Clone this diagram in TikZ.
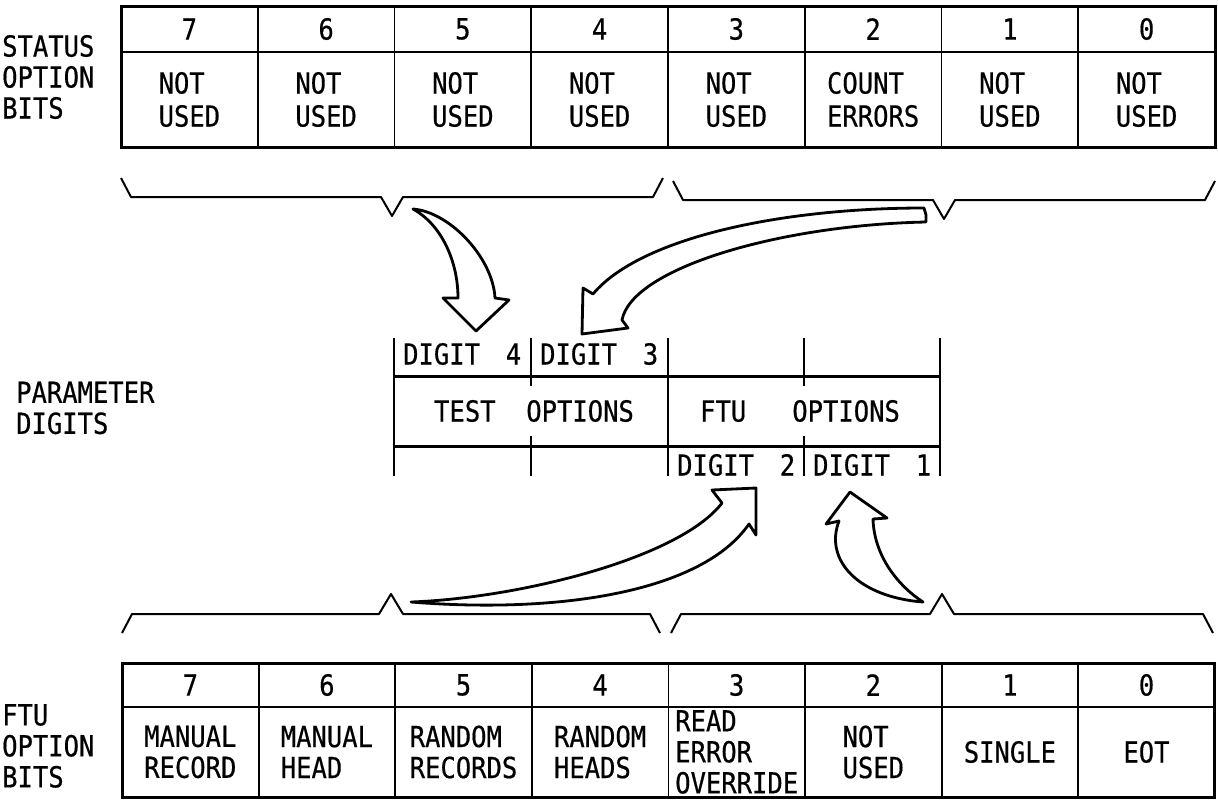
\documentclass[tikz,border=0pt]{standalone}
\usepackage{fontspec}
\newfontfamily\lettering[FakeStretch=0.88, FakeBold=0.5]{DejaVu Sans Mono}
\usetikzlibrary{positioning}

\begin{document}
\begin{tikzpicture}[
  x=1pt, y=-1pt,
  font={\lettering\fontsize{29}{33}\selectfont},
  bithead/.style={draw, line width=1.8pt, anchor=north west, inner sep=0pt, outer sep=0pt,
                  minimum width=136.75pt, minimum height=46pt},
  bitcell/.style={draw, line width=1.8pt, align=left, inner sep=0pt, outer sep=0pt,
                  minimum width=136.75pt, minimum height=95pt},
  frame/.style={line width=3pt},
  rule/.style={line width=2pt},
  brace/.style={line width=2pt, line join=round},
  fatarr/.style={draw, fill=white, line width=2.8pt, line join=round},
  digit/.style={anchor=west, inner xsep=9pt, inner ysep=0pt, text width=118pt},
  lbl/.style={anchor=west, align=left, inner sep=0pt,
              font={\lettering\fontsize{29}{31}\selectfont}}
]
\useasboundingbox (0,0) rectangle (1218,801);
\newcommand{\bracedown}[4]{%
  \coordinate (#1) at ({(#2+#3)/2},#4+19);
  \draw[brace] (#2,#4-19) -- (#2+10,#4) -- ({(#2+#3)/2-11},#4) -- (#1)
    -- ({(#2+#3)/2+11},#4) -- (#3-10,#4) -- (#3,#4-19);}
\newcommand{\braceup}[4]{%
  \coordinate (#1) at ({(#2+#3)/2},#4-20);
  \draw[brace] (#2,#4+19) -- (#2+10,#4) -- ({(#2+#3)/2-12},#4) -- (#1)
    -- ({(#2+#3)/2+12},#4) -- (#3-10,#4) -- (#3,#4+19);}

% status option bits
\node[lbl] (stlbl) at (2,77) {STATUS\\OPTION\\BITS};
\foreach \b/\txt [count=\i from 0] in {7/{NOT\\USED}, 6/{NOT\\USED}, 5/{NOT\\USED},
    4/{NOT\\USED}, 3/{NOT\\USED}, 2/{COUNT\\ERRORS}, 1/{NOT\\USED}, 0/{NOT\\USED}}{
  \node[bithead] (sh\b) at ({121+\i*136.75},6) {\b};
  \node[bitcell, below=0pt of sh\b] (sb\b) {\txt};
}
\draw[frame] (sh7.north west) rectangle (sb0.south east);
\bracedown{stest}{121}{663}{197}
\bracedown{sftu}{673}{1215}{200}

% parameter digits
\node[lbl] (pdlbl) at (16,408) {PARAMETER\\DIGITS};
\foreach \x in {394,668,940}
  \draw[rule] (\x,338) -- (\x,476);
\foreach \x in {531,804}
  \draw[rule] (\x,338) -- (\x,386) (\x,436) -- (\x,476);
\draw[frame] (394,376) -- (940,376) (394,446) -- (940,446);
\node[digit] (d4) at (394,354) {DIGIT\hfill 4};
\node[digit] (d3) at (531,354) {DIGIT\hfill 3};
\node[digit] (d2) at (668,465) {DIGIT\hfill 2};
\node[digit] (d1) at (804,465) {DIGIT\hfill 1};
\node (topt) at (534,411) {TEST~~OPTIONS};
\node (fopt) at (800,411) {FTU~~~OPTIONS};

% ftu option bits
\node[lbl] (ftlbl) at (2,746) {FTU\\OPTION\\BITS};
\foreach \b/\txt [count=\i from 0] in {7/{MANUAL\\RECORD}, 6/{MANUAL\\HEAD},
    5/{RANDOM\\RECORDS}, 4/{RANDOM\\HEADS}, 3/{READ\\ERROR\\OVERRIDE},
    2/{NOT\\USED}, 1/{SINGLE}, 0/{EOT}}{
  \node[bithead, minimum width=136.6pt, minimum height=44pt] (fh\b) at ({122+\i*136.6},663) {\b};
  \node[bitcell, minimum width=136.6pt, minimum height=90pt, below=0pt of fh\b,
        font={\lettering\fontsize{29}{31}\selectfont}] (fb\b) {\txt};
}
\draw[frame] (fh7.north west) rectangle (fb0.south east);
\braceup{ftest}{122}{660}{614}
\braceup{fftu}{671}{1213}{614}

% arrows
\coordinate (tA) at (413,209); \coordinate (hA) at (476,331);
\draw[fatarr] (tA) .. controls (450,212) and (493,258) .. (495,298) -- (509,300) -- (hA)
  -- (443,298) -- (458,298) .. controls (458,262) and (442,225) .. (tA) -- cycle;
\coordinate (tB) at (926,215); \coordinate (hB) at (582,334);
\draw[fatarr] (tB) -- (924,208) .. controls (780,208) and (640,238) .. (593,294) -- (583,288)
  -- (hB) -- (628,328) -- (622,320) .. controls (632,268) and (780,225) .. (926,222) -- cycle;
\coordinate (tC) at (411,602); \coordinate (hC) at (756,488);
\draw[fatarr] (tC) .. controls (560,614) and (702,592) .. (749,524) -- (756,535) -- (hC)
  -- (712,490) -- (722,503) .. controls (680,558) and (520,598) .. (tC) -- cycle;
\coordinate (tD) at (923,602); \coordinate (hD) at (850,492);
\draw[fatarr] (tD) .. controls (897,585) and (874,555) .. (873,519) -- (887,518) -- (hD)
  -- (826,524) -- (839,521) .. controls (824,560) and (858,597) .. (tD) -- cycle;
\end{tikzpicture}
\end{document}
